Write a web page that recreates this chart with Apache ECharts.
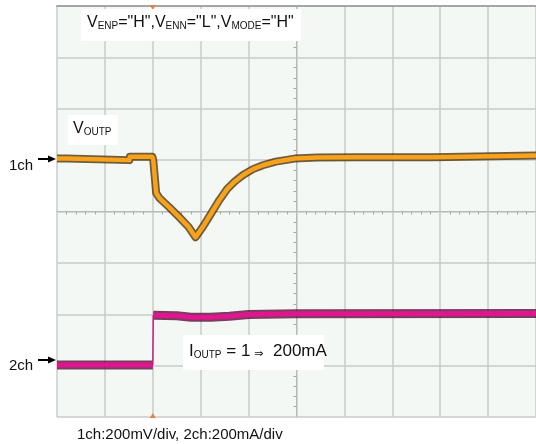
<!DOCTYPE html>
<html>
<head>
<meta charset="utf-8">
<script src="https://cdn.jsdelivr.net/npm/echarts@6/dist/echarts.min.js"></script>
<style>
html,body{margin:0;padding:0;background:#fff;}
#c{width:536px;height:444px;}
</style>
</head>
<body>
<div id="c"></div>
<script>
// x and y in scope divisions, centred on the screen (x: -5..5, y: -4..4)
var ch1X = [-5, -4.80, -4.79, -3.49, -3.48, -3.01, -2.99, -2.93, -2.86, -2.665, -2.459, -2.252, -2.107, -1.942, -1.777, -1.612, -1.446, -1.281, -1.116, -0.909, -0.702, -0.434, -0.041, 0.434, 1.26, 2.85, 2.89, 5];
var ch1Y = [1.03, 1.03, 1.064, 1.0, 1.064, 1.064, 1.0, 0.36, 0.26, 0.09, -0.10, -0.30, -0.50, -0.28, -0.03, 0.22, 0.44, 0.59, 0.71, 0.825, 0.90, 0.97, 1.03, 1.05, 1.058, 1.058, 1.088, 1.088];
// ch2: before the load step, and after it
var ch2PreX = [-5, -3.0];
var ch2PreY = [-2.99, -2.99];
var ch2PostX = [-2.99, -2.5, -2.2, -1.8, -1.4, -1.0, 0, 5];
var ch2PostY = [-2.02, -2.03, -2.06, -2.06, -2.04, -2.005, -1.99, -1.985];
var triggerX = -3;

function pairs(xs, ys){ return xs.map(function(x,i){ return [x, ys[i]]; }); }
var ch2Thick = pairs(ch2PreX, ch2PreY).concat([[null, null]], pairs(ch2PostX, ch2PostY));
var ch2Edge = [[ch2PreX[ch2PreX.length-1], ch2PreY[ch2PreY.length-1]], [ch2PostX[0], ch2PostY[0]]];

var chart = echarts.init(document.getElementById('c'), null, {renderer:'canvas'});
var FONT = "'Liberation Sans', Arial, sans-serif";
var gridCol = '#c9cdc9';

var option = {
  animation: false,
  backgroundColor: '#ffffff',
  grid: {left: 57, top: 6, width: 484, height: 411, show: true, backgroundColor: '#f4f8f4', borderWidth: 0},
  xAxis: [{
    type: 'value', min: -5, max: 5, interval: 1,
    axisLine: {show: true, onZero: true, lineStyle: {color: '#b8bcb8', width: 1}},
    axisTick: {show: false},
    minorTick: {show: true, splitNumber: 5, length: 3, lineStyle: {color: '#a8aca8', width: 1}},
    axisLabel: {show: false},
    splitLine: {show: true, lineStyle: {color: gridCol, width: 1.5}}
  }, {
    type: 'value', min: -5, max: 5, position: 'top',
    axisLine: {show: true, onZero: false, lineStyle: {color: '#a4a6a4', width: 2}},
    axisTick: {show: false}, axisLabel: {show: false}, splitLine: {show: false}
  }],
  yAxis: [{
    type: 'value', min: -4, max: 4, interval: 1,
    axisLine: {show: true, onZero: true, lineStyle: {color: '#b8bcb8', width: 1}},
    axisTick: {show: false},
    minorTick: {show: true, splitNumber: 5, length: 3, lineStyle: {color: '#a8aca8', width: 1}},
    axisLabel: {show: false},
    splitLine: {show: true, lineStyle: {color: gridCol, width: 1.5}}
  }],
  series: [
    {type: 'line', data: pairs(ch1X, ch1Y), symbol: 'none', z: 3,
     lineStyle: {color: 'rgba(70,40,0,0.75)', width: 8, join: 'round'},
     markPoint: {symbol: 'triangle', symbolSize: [6,5], symbolRotate: 180, itemStyle: {color: '#e8804a'}, label: {show: false},
       data: [{coord: [triggerX, 3.97]}]}},
    {type: 'line', data: pairs(ch1X, ch1Y), symbol: 'none', z: 4,
     lineStyle: {color: '#f7a21b', width: 4.5, join: 'round'}},
    {type: 'line', data: ch2Thick, symbol: 'none', z: 3, connectNulls: false,
     lineStyle: {color: 'rgba(80,0,45,0.75)', width: 9, join: 'round'},
     markPoint: {symbol: 'triangle', symbolSize: [6,5], itemStyle: {color: '#e8804a'}, label: {show: false},
       data: [{coord: [triggerX, -3.97]}]}},
    {type: 'line', data: ch2Thick, symbol: 'none', z: 4, connectNulls: false,
     lineStyle: {color: '#e0168f', width: 5, join: 'round'}},
    {type: 'line', data: ch2Edge, symbol: 'none', z: 4,
     lineStyle: {color: '#c8207f', width: 1.5}}
  ],
  graphic: [
    {type: 'rect', z: 100, shape: {x: 81, y: 9, width: 220, height: 32}, style: {fill: '#ffffff'}},
    {type: 'text', z: 101, x: 87, y: 15, style: {
      text: '{n|V}{s|ENP}{n|="H",V}{s|ENN}{n|="L",V}{s|MODE}{n|="H"}',
      rich: {n: {fontSize: 16, fontFamily: FONT, fill: '#111', verticalAlign: 'bottom'},
             s: {fontSize: 10, fontFamily: FONT, fill: '#111', verticalAlign: 'bottom'}}}},
    {type: 'rect', z: 100, shape: {x: 68, y: 115, width: 50, height: 30}, style: {fill: '#ffffff'}},
    {type: 'text', z: 101, x: 73, y: 121, style: {
      text: '{n|V}{s|OUTP}',
      rich: {n: {fontSize: 16, fontFamily: FONT, fill: '#111', verticalAlign: 'bottom'},
             s: {fontSize: 10, fontFamily: FONT, fill: '#111', verticalAlign: 'bottom'}}}},
    {type: 'rect', z: 100, shape: {x: 183, y: 335, width: 141, height: 35}, style: {fill: '#ffffff'}},
    {type: 'text', z: 101, x: 189, y: 343, style: {
      text: '{n|I}{s|OUTP}{n| = 1}{a|⇒}{n|  200mA}',
      rich: {n: {fontSize: 17, fontFamily: FONT, fill: '#111', verticalAlign: 'bottom'},
             s: {fontSize: 10, fontFamily: FONT, fill: '#111', verticalAlign: 'bottom'},
             a: {fontSize: 11, fontFamily: "'DejaVu Sans', sans-serif", fill: '#111', verticalAlign: 'bottom', padding: [0,0,0,4]}}}},
    {type: 'text', z: 101, x: 9, y: 158, style: {text: '1ch', font: '15px ' + FONT, fill: '#111'}},
    {type: 'text', z: 101, x: 9, y: 358, style: {text: '2ch', font: '15px ' + FONT, fill: '#111'}},
    {type: 'line', z: 101, shape: {x1: 38, y1: 159, x2: 50, y2: 159}, style: {stroke: '#000', lineWidth: 2}},
    {type: 'polygon', z: 101, shape: {points: [[48,155.5],[56,159],[48,162.5]]}, style: {fill: '#000'}},
    {type: 'line', z: 101, shape: {x1: 38, y1: 360, x2: 50, y2: 360}, style: {stroke: '#000', lineWidth: 2}},
    {type: 'polygon', z: 101, shape: {points: [[48,356.5],[56,360],[48,363.5]]}, style: {fill: '#000'}},
    {type: 'text', z: 101, x: 77, y: 427, style: {text: '1ch:200mV/div, 2ch:200mA/div', font: '15px ' + FONT, fill: '#111'}}
  ]
};
chart.setOption(option);
</script>
</body>
</html>
